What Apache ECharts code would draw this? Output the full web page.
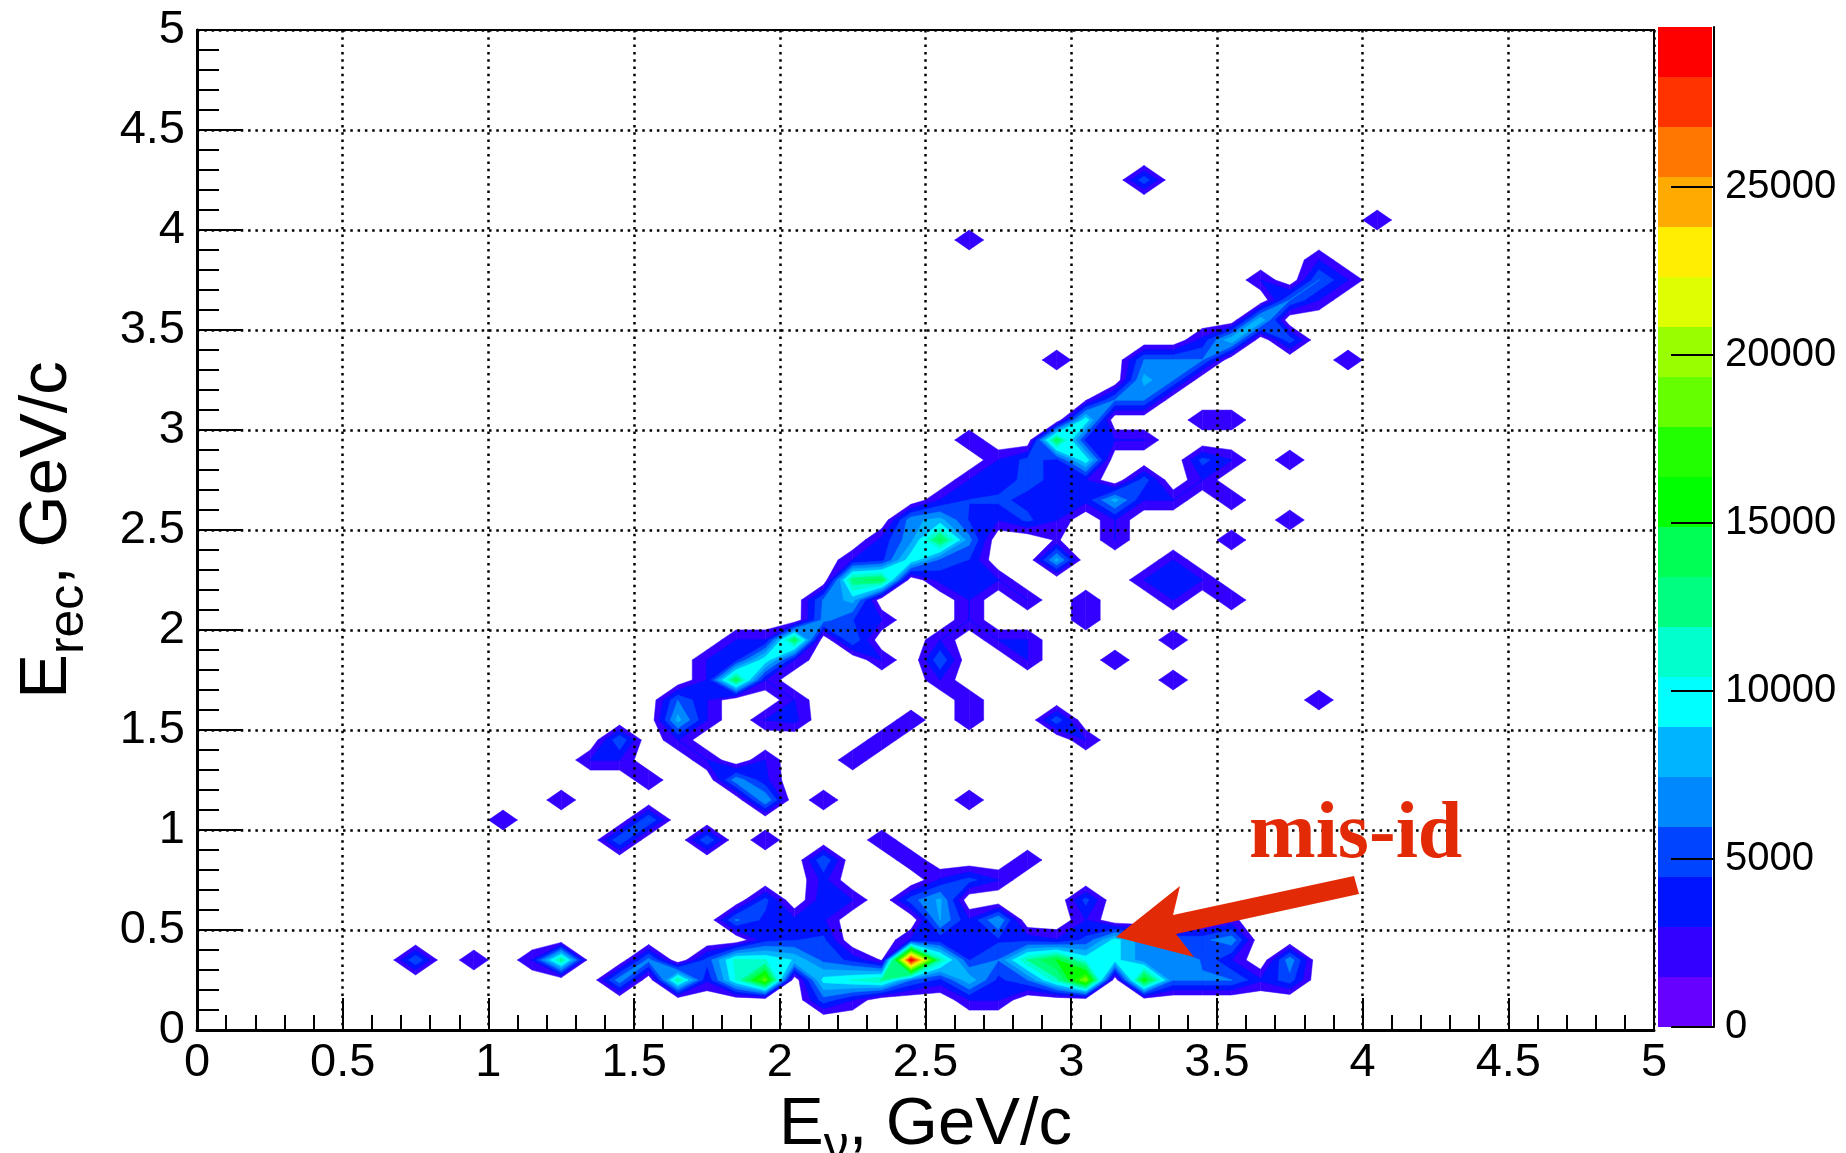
<!DOCTYPE html>
<html><head><meta charset="utf-8">
<style>html,body{margin:0;padding:0;background:#fff}#c{width:1846px;height:1153px}</style>
<script src="https://cdn.jsdelivr.net/npm/echarts@6/dist/echarts.min.js"></script>
</head><body><div id="c"></div>
<script>
// Bin contents of the histogram: [E_nu bin centre, content], one list per E_rec bin centre.
const bins015 = [[2.15,5300],[2.25,3000],[2.65,3000],[2.75,3000]];
const bins025 = [[1.45,7000],[1.65,12000],[1.75,3200],[1.85,10500],[1.95,18500],[2.15,9500],[2.25,10500],[2.35,12000],[2.45,6000],[2.55,4000],[2.65,8500],[2.75,4000],[2.85,5950],[2.95,11500],[3.05,19500],[3.25,16000],[3.35,6000],[3.45,6000],[3.55,6000],[3.65,3200],[3.75,5300]];
const bins035 = [[0.75,5900],[0.95,2950],[1.15,3000],[1.25,12500],[1.55,6500],[1.75,5000],[1.85,11000],[1.95,10500],[2.05,8750],[2.15,5500],[2.25,4000],[2.35,1300],[2.45,29700],[2.55,12000],[2.65,4400],[2.75,6000],[2.85,12000],[2.95,15000],[3.05,10000],[3.15,9500],[3.25,6500],[3.35,6500],[3.45,5900],[3.55,3000],[3.75,7000]];
const bins045 = [[1.95,3900],[2.05,4400],[2.15,4800],[2.45,3200],[2.55,3500],[2.65,4000],[2.75,4200],[2.85,4000],[2.95,3100],[3.05,4800],[3.15,9500],[3.25,6500],[3.35,5500],[3.45,5500],[3.55,7000]];
const bins055 = [[1.85,6200],[1.95,4000],[2.05,3400],[2.15,3200],[2.55,7500],[2.65,3170],[2.75,7500],[3.05,3000],[3.55,2000]];
const bins065 = [[1.95,5000],[2.15,4000],[2.25,3000],[2.45,5300],[2.55,7800],[3.05,5000]];
const bins075 = [[2.15,3500],[2.55,3200],[2.65,5000],[2.75,3000]];
const bins085 = [[2.15,5900],[2.45,2950],[2.85,2950]];
const bins095 = [[1.45,5900],[1.75,5900],[1.95,2950],[2.35,2950]];
const bins105 = [[1.05,2950],[1.55,6000]];
const bins115 = [[1.25,2950],[1.95,7500],[2.15,2950],[2.65,2950]];
const bins125 = [[1.55,2950],[1.85,7000],[1.95,3400]];
const bins135 = [[1.35,3000],[1.45,3000],[1.75,3000],[1.95,3000],[2.25,2950]];
const bins145 = [[1.45,5900],[1.65,3000],[2.35,2950],[3.05,3000]];
const bins155 = [[1.65,8000],[1.75,3000],[1.95,3000],[2.05,3500],[2.45,2950],[2.65,2950],[2.95,5500]];
const bins165 = [[1.65,5950],[1.75,3000],[2.05,3000],[2.65,2950],[3.85,2950]];
const bins175 = [[1.75,3000],[1.85,14000],[1.95,3000],[2.55,3000],[3.35,2950]];
const bins185 = [[1.75,3000],[1.85,4000],[1.95,10000],[2.05,3000],[2.35,3000],[2.55,5800],[2.85,3000],[3.15,2950]];
const bins195 = [[1.85,3000],[1.95,3000],[2.05,14000],[2.25,5950],[2.55,3000],[2.75,3000],[2.85,3000],[3.35,2950]];
const bins205 = [[2.15,6500],[2.25,4500],[2.35,3000],[2.65,3000],[3.05,2950]];
const bins215 = [[2.15,6200],[2.25,8000],[2.65,3000],[2.85,3000],[3.05,2950],[3.35,3000],[3.55,2950]];
const bins225 = [[2.25,13000],[2.35,14000],[2.55,3500],[2.65,4000],[2.75,3000],[3.25,3000],[3.35,4000],[3.45,3000]];
const bins235 = [[2.25,3000],[2.35,4000],[2.45,10000],[2.55,5500],[2.65,4400],[2.95,8000],[3.35,3000]];
const bins245 = [[2.35,3500],[2.45,7000],[2.55,14000],[2.65,6500],[2.95,1700],[3.15,3000],[3.55,2950]];
const bins255 = [[2.45,7000],[2.55,8000],[2.65,4300],[2.75,3000],[2.85,4800],[2.95,3000],[3.15,3000],[3.75,2950]];
const bins265 = [[2.55,3000],[2.65,4500],[2.75,4800],[2.85,4000],[2.95,4000],[3.05,3500],[3.15,8000],[3.25,3000],[3.35,3000],[3.55,2950]];
const bins275 = [[2.65,3000],[2.75,3500],[2.85,5000],[2.95,4000],[3.05,3000],[3.25,5300],[3.45,3000]];
const bins285 = [[2.75,3000],[2.85,5000],[2.95,4000],[3.05,10000],[3.45,5000],[3.55,3000],[3.75,2950]];
const bins295 = [[2.65,2950],[2.95,14000],[3.05,4000],[3.15,3000],[3.25,3000]];
const bins305 = [[3.05,10000],[3.45,2950],[3.55,2950]];
const bins315 = [[3.05,1300],[3.15,6000],[3.25,6000]];
const bins325 = [[3.25,8000],[3.35,6000]];
const bins335 = [[2.95,2950],[3.25,6000],[3.35,6000],[3.45,6000],[3.95,2950]];
const bins345 = [[3.45,3500],[3.55,8750],[3.75,5300]];
const bins355 = [[3.65,8750]];
const bins365 = [[3.75,6000],[3.85,3000]];
const bins375 = [[3.65,3000],[3.85,6000],[3.95,3000]];
const bins385 = [[3.85,3000]];
const bins395 = [[2.65,2950]];
const bins405 = [[4.05,2950]];
const bins425 = [[3.25,5500]];

const erecRows = [[0.15,bins015],[0.25,bins025],[0.35,bins035],[0.45,bins045],[0.55,bins055],[0.65,bins065],[0.75,bins075],[0.85,bins085],[0.95,bins095],[1.05,bins105],[1.15,bins115],[1.25,bins125],[1.35,bins135],[1.45,bins145],[1.55,bins155],[1.65,bins165],[1.75,bins175],[1.85,bins185],[1.95,bins195],[2.05,bins205],[2.15,bins215],[2.25,bins225],[2.35,bins235],[2.45,bins245],[2.55,bins255],[2.65,bins265],[2.75,bins275],[2.85,bins285],[2.95,bins295],[3.05,bins305],[3.15,bins315],[3.25,bins325],[3.35,bins335],[3.45,bins345],[3.55,bins355],[3.65,bins365],[3.75,bins375],[3.85,bins385],[3.95,bins395],[4.05,bins405],[4.25,bins425]];

const levelStep = 1488;
const bandColors = ['#6600ff','#3300ff','#0014ff','#0044ff','#0088ff','#00b4ff','#00ffff','#00ffcc','#00ff80','#00ff55','#00ff00','#22ff00','#66ff00','#99ff00','#ddff00','#ffee00','#ffaa00','#ff7700','#ff3300','#ff0000'];
const colorbarTicks = [0,5000,10000,15000,20000,25000];
const xTitle = {main:'E', sub:'ν', rest:', GeV/c'};
const yTitle = {main:'E', sub:'rec', rest:', GeV/c'};
const annotation = 'mis-id';

// Regular grid of bin centres
const N = 50, step = 0.1;
const Z = Array.from({length:N},()=>new Float64Array(N));
erecRows.forEach(([y,row])=>row.forEach(([x,v])=>{
  Z[Math.round((x-0.05)/step)][Math.round((y-0.05)/step)] = v;
}));
const cells = [];
for(let i=0;i<N-1;i++)for(let j=0;j<N-1;j++){
  const a=Z[i][j],b=Z[i+1][j],c=Z[i+1][j+1],d=Z[i][j+1];
  if(Math.max(a,b,c,d)>=levelStep){
    const x0=0.05+i*step,y0=0.05+j*step;
    cells.push([x0,y0,x0+step,y0+step,a,b,c,d]);
  }
}
function clipAbove(poly,L){
  const out=[];
  for(let k=0;k<poly.length;k++){
    const p=poly[k],q=poly[(k+1)%poly.length];
    const pin=p[2]>=L,qin=q[2]>=L;
    if(pin)out.push(p);
    if(pin!==qin){
      const t=(L-p[2])/(q[2]-p[2]);
      out.push([p[0]+t*(q[0]-p[0]),p[1]+t*(q[1]-p[1]),L]);
    }
  }
  return out;
}
function bandRenderer(k){
  return function(params,api){
    const x0=api.value(0),y0=api.value(1),x1=api.value(2),y1=api.value(3);
    const quad=[[x0,y0,api.value(4)],[x1,y0,api.value(5)],[x1,y1,api.value(6)],[x0,y1,api.value(7)]];
    const poly=clipAbove(quad,k*levelStep);
    if(poly.length<3)return null;
    return {type:'polygon',shape:{points:poly.map(p=>api.coord([p[0],p[1]]))},
      style:{fill:bandColors[k],stroke:bandColors[k],lineWidth:0.5}};
  };
}
function renderBand(params,api){
  const a=api.coord([0,api.value(0)]),b=api.coord([1,api.value(1)]);
  return {type:'rect',shape:{x:a[0],y:b[1],width:b[0]-a[0]-2,height:a[1]-b[1]},style:{fill:bandColors[params.dataIndex]}};
}
const bandData = bandColors.map((c,k)=>[k*levelStep,(k+1)*levelStep]);

const contourSeries = [];
for(let k=1;k<bandColors.length;k++){
  const L=k*levelStep;
  const d=cells.filter(c=>Math.max(c[4],c[5],c[6],c[7])>=L);
  if(d.length)contourSeries.push({type:'custom',xAxisIndex:0,yAxisIndex:0,coordinateSystem:'cartesian2d',
    renderItem:bandRenderer(k),encode:{x:[0,2],y:[1,3]},data:d,silent:true,clip:true,z:2+k});
}

const F='"Liberation Sans",Arial,sans-serif';
const titleRich={
  m:{fontFamily:F,fontSize:67,color:'#000',lineHeight:80,verticalAlign:'top'},
  s:{fontFamily:F,fontSize:50,color:'#000',lineHeight:80,verticalAlign:'bottom'}
};
function axisBase(tickLen,minorLen){return {
  type:'value',min:0,max:5,interval:0.5,z:50,
  axisLine:{show:true,onZero:false,lineStyle:{color:'#000',width:3}},
  axisTick:{show:true,inside:true,length:tickLen,lineStyle:{color:'#000',width:2}},
  minorTick:{show:true,splitNumber:5,length:minorLen,lineStyle:{color:'#000',width:2}},
  splitLine:{show:true,lineStyle:{color:'#000',width:2.5,type:[2.5,4.8]}},
  axisLabel:{show:true,fontFamily:F,fontSize:47,color:'#000',margin:10,hideOverlap:false},
  nameLocation:'middle',nameTextStyle:{rich:titleRich},
};}
const xMain=axisBase(32,15);
const yMain=axisBase(46,22);
yMain.axisLabel.padding=[10,0,0,0];
yMain.axisLabel.margin=12;
const chart=echarts.init(document.getElementById('c'),null,{renderer:'canvas'});
chart.setOption({
  animation:false,backgroundColor:'#fff',
  grid:[
    {left:197,top:30,width:1457,height:1000,show:true,borderColor:'#000',borderWidth:2,backgroundColor:'#fff',containLabel:false,outerBoundsMode:'none'},
    {left:1658,top:27,width:56,height:1000,containLabel:false,outerBoundsMode:'none'}
  ],
  xAxis:[
    Object.assign(xMain,{gridIndex:0,name:`{m|${xTitle.main}}{s|${xTitle.sub}}{m|${xTitle.rest}}`,nameGap:21}),
    {type:'value',gridIndex:1,min:0,max:1,show:false}
  ],
  yAxis:[
    Object.assign(yMain,{gridIndex:0,name:`{m|${yTitle.main}}{s|${yTitle.sub}}{m|${yTitle.rest}}`,nameRotate:90,nameGap:103}),
    {type:'value',gridIndex:1,position:'right',min:0,max:20*levelStep,z:50,
      axisLine:{show:true,onZero:false,lineStyle:{color:'#000',width:2}},
      axisTick:{show:true,inside:true,length:43,customValues:colorbarTicks,lineStyle:{color:'#000',width:2}},
      splitLine:{show:false},minorTick:{show:false},
      axisLabel:{show:true,customValues:colorbarTicks,formatter:v=>String(v),fontFamily:F,fontSize:40,color:'#000',margin:11,padding:[16,0,0,0]}}
  ],
  series:contourSeries.concat([
    {type:'custom',xAxisIndex:1,yAxisIndex:1,coordinateSystem:'cartesian2d',renderItem:renderBand,
     encode:{y:[0,1]},data:bandData,silent:true,z:2}
  ]),
  graphic:[
    {type:'polygon',z:100,shape:{points:[[1354,876],[1173,915],[1180,886],[1116,937],[1194,957],[1176,934],[1359,894]]},style:{fill:'#e32a06'}},
    {type:'text',z:100,left:1249,top:796,style:{text:annotation,fontFamily:'"Liberation Serif",serif',fontWeight:'bold',fontSize:80,fill:'#e32a06'}}
  ]
});
</script></body></html>
